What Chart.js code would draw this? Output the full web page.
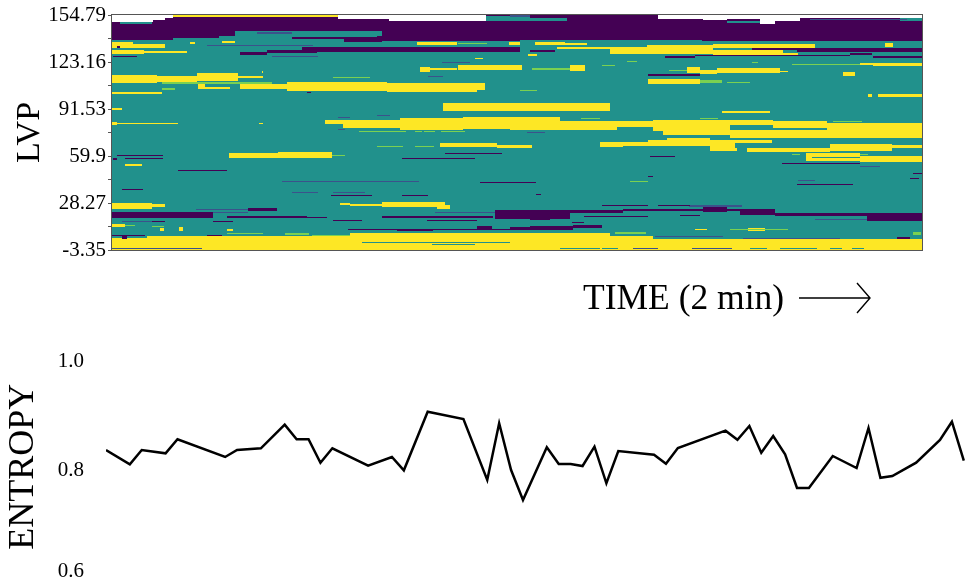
<!DOCTYPE html>
<html>
<head>
<meta charset="utf-8">
<title>LVP entropy</title>
<script src="https://cdn.jsdelivr.net/npm/chart.js@4"></script>
<style>
    html, body { margin: 0; padding: 0; background: #fff; overflow: hidden; }
    #heatWrap { position: absolute; left: 0; top: 0; width: 965px; height: 330px; }
    #lineWrap { position: absolute; left: 0; top: 340px; width: 965px; height: 244px; }
</style>
</head>
<body>
<div id="heatWrap"><canvas id="heatChart"></canvas></div>
<div id="lineWrap"><canvas id="lineChart"></canvas></div>
<script>
// heatmap axis
var lvpTicks = [154.79, 138.98, 123.16, 107.35, 91.53, 75.72, 59.9, 44.09, 28.27, 12.46, -3.35];
var lvpTickLabels = ['154.79', '', '123.16', '', '91.53', '', '59.9', '', '28.27', '', '-3.35'];
var rowCount = 235;   // LVP bins, top bin first
var sampleCount = 810;

// heatmap runs: [first bin, end bin, first sample, end sample]
var tealBase = [[0, 235, 0, 810]];

var purpleBands = [
    [0, 25, 0, 61], [0, 23, 61, 107], [0, 21, 107, 123], [0, 16, 123, 270],
    [22, 24, 180, 235], [21, 27, 232, 270], [0, 26, 270, 408], [0, 25, 408, 590], [0, 26, 590, 810],
    [32, 37, 190, 408], [37, 40, 128, 155], [35, 38, 155, 205],
    [35, 37, 418, 443], [33, 37, 685, 810], [33, 35, 640, 700],
    [38, 40, 738, 760], [41, 43, 761, 810], [40, 41, 583, 738], [41, 43, 553, 583],
    [197, 203, 0, 101], [193, 196, 136, 165], [211, 215, 365, 380],
    [195, 204, 383, 458], [204, 205, 418, 438], [195, 198, 458, 511],
    [191, 197, 591, 615], [194, 196, 615, 628], [194, 200, 628, 663],
    [198, 201, 663, 755], [198, 206, 755, 810],
    [212, 215, 398, 418], [211, 215, 418, 461], [210, 213, 461, 490], [214, 216, 285, 321]
];

var tealPatches = [
    [7, 9, 8, 40], [1, 6, 374, 418], [3, 6, 418, 455], [6, 8, 615, 648], [3, 6, 788, 810],
    [17, 22, 125, 265], [26, 32, 270, 408], [26, 32, 703, 810], [26, 32, 408, 600],
    [33, 35, 601, 640]
];

var yellowBands = [
    [0, 2, 61, 226],
    [27, 32, 0, 21], [29, 33, 0, 53], [35, 39, 0, 32], [36, 38, 32, 75],
    [27, 29, 78, 83], [26, 28, 110, 123], [27, 30, 305, 345], [27, 30, 397, 408],
    [27, 30, 423, 453], [28, 30, 453, 475], [32, 34, 445, 498],
    [32, 39, 498, 535], [30, 39, 535, 601], [35, 40, 601, 671], [29, 33, 601, 703], [38, 40, 671, 686],
    [28, 32, 773, 781], [39, 41, 416, 425],
    [52, 57, 308, 318], [53, 55, 318, 345], [50, 55, 346, 410], [50, 55, 398, 410], [50, 56, 458, 473],
    [60, 68, 0, 45], [61, 67, 45, 85], [58, 66, 85, 126], [61, 63, 126, 151], [56, 58, 150, 151],
    [68, 72, 86, 93], [72, 74, 86, 118],
    [69, 74, 128, 175], [67, 76, 175, 275], [68, 77, 275, 365], [68, 75, 365, 373],
    [77, 79, 0, 50], [88, 96, 331, 488], [88, 96, 488, 498], [93, 95, 0, 10],
    [107, 110, 0, 5], [108, 109, 5, 66], [108, 109, 147, 151],
    [105, 109, 213, 231], [105, 113, 231, 288], [103, 115, 288, 351], [102, 114, 351, 408],
    [102, 115, 398, 448], [106, 115, 448, 505], [106, 112, 505, 541], [105, 116, 541, 618],
    [105, 110, 618, 661], [106, 113, 661, 715], [108, 115, 715, 810],
    [115, 120, 551, 618], [115, 123, 618, 810], [123, 125, 555, 598],
    [52, 58, 575, 588], [55, 59, 588, 605], [53, 58, 605, 668], [56, 57, 668, 676],
    [64, 69, 536, 588], [48, 50, 748, 761], [48, 51, 761, 810], [57, 61, 731, 743],
    [79, 82, 756, 760], [79, 82, 766, 810], [96, 98, 610, 658],
    [43, 44, 363, 371],
    [128, 132, 328, 385], [130, 133, 385, 420], [127, 132, 488, 511], [127, 131, 511, 536],
    [125, 131, 536, 598], [125, 136, 598, 625], [125, 128, 623, 660], [133, 137, 635, 718],
    [129, 136, 718, 780], [130, 133, 780, 810], [138, 146, 694, 748], [141, 147, 748, 810],
    [138, 143, 117, 166], [137, 143, 166, 220], [149, 151, 13, 30],
    [188, 194, 0, 40], [189, 192, 40, 53], [188, 190, 228, 238], [189, 191, 238, 270],
    [187, 192, 270, 333], [190, 194, 325, 338],
    [209, 212, 0, 13], [213, 216, 48, 52], [212, 216, 67, 71], [214, 216, 115, 121], [214, 215, 583, 595],
    [213, 216, 636, 653],
    [223, 235, 0, 35], [221, 235, 35, 238], [218, 235, 238, 498], [221, 235, 498, 541], [224, 235, 541, 810]
];

var limeLines = [
    [62, 63, 221, 258], [73, 75, 50, 63], [67, 69, 50, 126], [67, 69, 126, 160], [116, 117, 247, 294],
    [116, 117, 303, 310], [116, 117, 312, 323], [116, 117, 329, 353], [131, 132, 265, 291], [131, 132, 303, 322],
    [140, 141, 220, 233], [53, 55, 420, 458], [50, 51, 490, 503], [46, 47, 515, 525], [47, 48, 640, 646],
    [55, 56, 557, 575], [65, 68, 588, 610], [67, 68, 615, 638], [49, 50, 680, 748], [75, 76, 408, 425],
    [103, 104, 469, 488], [103, 104, 588, 606], [106, 107, 721, 750], [28, 29, 346, 375],
    [166, 167, 518, 536], [139, 140, 680, 688], [139, 140, 748, 756], [210, 211, 13, 23], [211, 212, 40, 52],
    [218, 219, 115, 151], [218, 220, 173, 197], [220, 221, 200, 238], [217, 219, 503, 525], [217, 219, 525, 534],
    [214, 215, 618, 676], [217, 220, 801, 809]
];

var blueLines = [
    [17, 19, 145, 180], [30, 31, 95, 201], [41, 42, 160, 206], [0, 2, 398, 418], [4, 5, 698, 795],
    [47, 48, 330, 358], [61, 62, 316, 331], [100, 101, 265, 278], [102, 103, 226, 238], [114, 115, 226, 233],
    [117, 118, 415, 433], [151, 152, 748, 768], [165, 166, 686, 703], [166, 167, 170, 307], [177, 178, 180, 206],
    [177, 178, 221, 253], [194, 195, 84, 136], [197, 198, 101, 136], [197, 198, 323, 383], [204, 205, 703, 755],
    [206, 207, 10, 40], [190, 192, 577, 630], [221, 222, 543, 611], [223, 224, 631, 728], [233, 234, 0, 90],
    [233, 234, 521, 546], [233, 234, 580, 620]
];

var purpleLines = [
    [41, 42, 1, 25], [31, 33, 5, 8], [77, 78, 195, 199], [138, 139, 333, 390], [143, 144, 290, 363],
    [140, 141, 5, 51], [143, 145, 1, 5], [143, 144, 13, 51], [155, 156, 66, 115], [167, 168, 368, 424],
    [174, 175, 10, 31], [180, 181, 219, 260], [180, 181, 290, 316], [201, 203, 115, 195], [202, 203, 195, 215],
    [206, 207, 101, 121], [206, 207, 40, 53], [205, 206, 221, 250], [201, 203, 270, 381], [205, 206, 315, 365],
    [214, 215, 236, 408], [220, 221, 0, 33], [220, 224, 10, 15], [220, 221, 95, 110], [59, 61, 536, 588],
    [141, 142, 538, 563], [148, 149, 670, 748], [158, 159, 801, 810], [163, 164, 798, 807], [169, 170, 685, 741],
    [161, 162, 536, 541], [179, 180, 424, 429], [190, 191, 490, 536], [190, 191, 546, 578], [194, 196, 511, 628],
    [201, 202, 472, 536], [200, 201, 568, 588], [207, 208, 460, 472], [222, 224, 785, 798]
];

var tealLines = [
    [227, 228, 250, 398], [229, 230, 320, 363], [233, 234, 448, 488], [233, 234, 490, 506], [233, 234, 638, 655],
    [233, 234, 668, 705], [233, 234, 718, 730], [233, 234, 740, 752], [123, 124, 748, 765], [142, 143, 700, 748],
    [128, 133, 623, 681]
];

var whiteGaps = [
    [0, 7, 0, 41], [0, 5, 41, 53], [0, 3, 53, 61], [0, 4, 226, 277], [0, 6, 277, 374],
    [0, 4, 546, 591], [0, 5, 591, 615], [0, 4, 615, 648], [0, 9, 648, 663], [0, 6, 663, 688], [0, 3, 688, 810]
];

// entropy trace, only the vertices that can be seen
var entropyTimes = [0, 2, 3, 5, 6, 10, 11, 13, 15, 16, 17, 18, 19, 22, 24, 25, 27, 30, 32, 33, 34, 35, 37, 38, 39, 40, 41, 42, 43, 46, 47, 48, 52, 53, 54, 55, 56, 57, 58, 59, 61, 63, 64, 65, 66, 68, 70, 71, 72];
var entropyValues = [0.8318, 0.8046, 0.8318, 0.8255, 0.8522, 0.8185, 0.8318, 0.835, 0.88, 0.8522, 0.8522, 0.8076, 0.835, 0.8019, 0.8185, 0.7931, 0.9048, 0.8909, 0.7747, 0.8827, 0.7937, 0.7366, 0.837, 0.8051, 0.8051, 0.8013, 0.8381, 0.7684, 0.8299, 0.8229, 0.8057, 0.8356, 0.8686, 0.8514, 0.8775, 0.8267, 0.8585, 0.8236, 0.7594, 0.7594, 0.8204, 0.7975, 0.8737, 0.779, 0.7823, 0.8076, 0.8509, 0.8857, 0.8114];
var entropyTicks = [1.0, 0.7924, 0.6];   // the 0.8 label sits a little low in the figure
var entropyTickLabels = ['1.0', '0.8', '0.6'];

var serif = '"Liberation Serif", "Times New Roman", serif';

var rowLabels = [];
for (var r = 0; r < rowCount; r++) {
    rowLabels.push('b' + r);
}

// one bar per bin so the runs stay on whole pixels
function runsToBars(runs) {
    var bars = [];
    runs.forEach(function (run) {
        for (var row = run[0]; row < run[1]; row++) {
            bars.push({ y: rowLabels[row], x: [run[2], run[3]] });
        }
    });
    return bars;
}

function heatLayer(name, runs, color, order) {
    return {
        label: name,
        data: runsToBars(runs),
        backgroundColor: color,
        borderWidth: 0,
        inflateAmount: 0,
        barThickness: 1,
        grouped: false,
        order: order
    };
}

// frame round the heatmap and the time arrow under it
var heatExtras = {
    id: 'heatExtras',
    afterDatasetsDraw: function (chart) {
        var a = chart.chartArea;
        var ctx = chart.ctx;
        ctx.save();
        ctx.strokeStyle = '#555555';
        ctx.lineWidth = 1;
        ctx.strokeRect(a.left - 0.5, a.top - 0.5, a.right - a.left + 1, a.bottom - a.top + 1);

        ctx.fillStyle = '#000000';
        ctx.font = '35.5px ' + serif;
        ctx.textBaseline = 'alphabetic';
        ctx.textAlign = 'left';
        ctx.fillText('TIME (2 min)', 583, 309);

        ctx.strokeStyle = '#000000';
        ctx.lineWidth = 1.4;
        ctx.beginPath();
        ctx.moveTo(799, 298);
        ctx.lineTo(869, 298);
        ctx.moveTo(857, 283);
        ctx.lineTo(870, 298);
        ctx.lineTo(857, 313);
        ctx.stroke();
        ctx.restore();
    }
};

var heatCanvas = document.getElementById('heatChart');
heatCanvas.width = 965;
heatCanvas.height = 330;

var heatChart = new Chart(heatCanvas.getContext('2d'), {
    type: 'bar',
    data: {
        labels: rowLabels,
        datasets: [
            heatLayer('white', whiteGaps, '#ffffff', 1),
            heatLayer('teal lines', tealLines, '#21918c', 2),
            heatLayer('purple lines', purpleLines, '#440154', 3),
            heatLayer('blue lines', blueLines, '#3b528b', 4),
            heatLayer('lime lines', limeLines, '#7ad151', 5),
            heatLayer('yellow', yellowBands, '#fde725', 6),
            heatLayer('teal patches', tealPatches, '#21918c', 7),
            heatLayer('purple', purpleBands, '#440154', 8),
            heatLayer('teal', tealBase, '#21918c', 9)
        ]
    },
    options: {
        indexAxis: 'y',
        responsive: false,
        animation: false,
        events: [],
        layout: { padding: { top: 15, bottom: 80, left: 0, right: 43 } },
        plugins: { legend: { display: false }, tooltip: { enabled: false } },
        scales: {
            x: { type: 'linear', min: 0, max: sampleCount, display: false },
            y: { type: 'category', display: false, offset: true },
            lvp: {
                type: 'linear',
                axis: 'y',
                position: 'left',
                min: -3.35,
                max: 154.79,
                offset: false,
                afterFit: function (scale) { scale.width = 112; },
                afterBuildTicks: function (scale) {
                    scale.ticks = lvpTicks.map(function (v) { return { value: v }; });
                },
                border: { display: false },
                grid: { drawOnChartArea: false, offset: false, tickLength: 4, color: '#555555' },
                ticks: {
                    padding: 2,
                    color: '#000000',
                    font: { family: serif, size: 21 },
                    autoSkip: false,
                    maxRotation: 0,
                    callback: function (value, index) { return lvpTickLabels[index]; }
                },
                title: {
                    display: true,
                    text: 'LVP',
                    color: '#000000',
                    font: { family: serif, size: 34 },
                    padding: { top: 10, bottom: 0 }
                }
            }
        }
    },
    plugins: [heatExtras]
});

var lineCanvas = document.getElementById('lineChart');
lineCanvas.width = 965;
lineCanvas.height = 244;

var lineChart = new Chart(lineCanvas.getContext('2d'), {
    type: 'line',
    data: {
        datasets: [{
            label: 'ENTROPY',
            data: entropyTimes.map(function (t, i) { return { x: t, y: entropyValues[i] }; }),
            borderColor: '#000000',
            borderWidth: 2.5,
            pointRadius: 0,
            tension: 0,
            fill: false
        }]
    },
    options: {
        responsive: false,
        animation: false,
        events: [],
        layout: { padding: { top: 21.7, bottom: 12.3, left: 0, right: 0 } },
        plugins: { legend: { display: false }, tooltip: { enabled: false } },
        scales: {
            x: { type: 'linear', min: 0, max: 72.1, display: false },
            y: {
                min: 0.6,
                max: 1.0,
                afterFit: function (scale) { scale.width = 106; },
                afterBuildTicks: function (scale) {
                    scale.ticks = entropyTicks.map(function (v) { return { value: v }; });
                },
                border: { display: false },
                // long invisible ticks push the labels away from the trace
                grid: { drawOnChartArea: false, tickLength: 22, color: 'rgba(0,0,0,0)' },
                ticks: {
                    padding: 0,
                    color: '#000000',
                    font: { family: serif, size: 21, lineHeight: 1 },
                    callback: function (value, index) { return entropyTickLabels[index]; }
                },
                title: {
                    display: true,
                    text: 'ENTROPY',
                    color: '#000000',
                    font: { family: serif, size: 36 },
                    padding: { top: 2, bottom: 0 }
                }
            }
        }
    }
});
</script>
</body>
</html>
